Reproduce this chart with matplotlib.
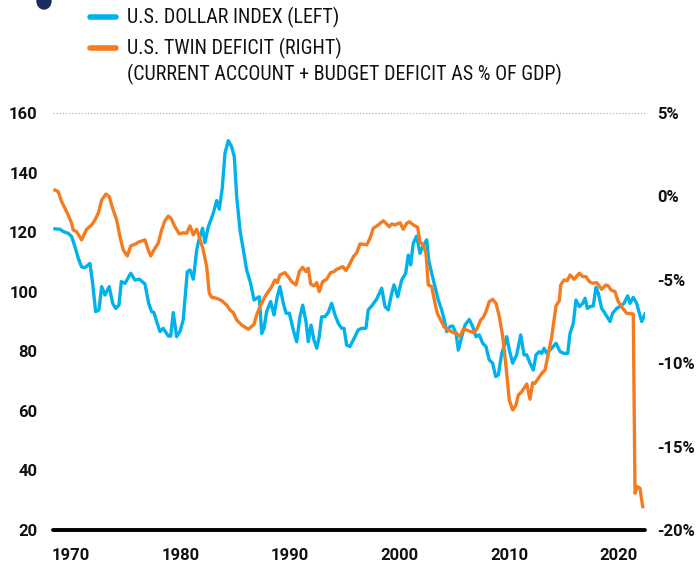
import matplotlib
matplotlib.use("Agg")
import matplotlib.pyplot as plt
from matplotlib.lines import Line2D
from matplotlib.patches import Ellipse

# U.S. dollar index (left axis)
usd_years = [1968.56, 1969.01, 1969.32, 1969.77, 1970.08, 1970.38, 1970.68, 1970.99, 1971.30, 1971.75,
             1972.00, 1972.27, 1972.57, 1972.82, 1973.12, 1973.51, 1973.82, 1974.10, 1974.40, 1974.61,
             1974.95, 1975.47, 1975.86, 1976.25, 1976.77, 1977.11, 1977.38, 1977.59, 1977.84, 1978.14,
             1978.44, 1978.90, 1979.12, 1979.35, 1979.66, 1979.96, 1980.26, 1980.63, 1980.88, 1981.18,
             1981.49, 1981.72, 1982.03, 1982.24, 1982.55, 1983.00, 1983.31, 1983.55, 1983.82, 1984.07,
             1984.37, 1984.68, 1984.92, 1985.14, 1985.44, 1985.74, 1986.05, 1986.41, 1986.72, 1986.96,
             1987.20, 1987.42, 1987.63, 1987.87, 1988.24, 1988.54, 1988.84, 1989.09, 1989.39, 1989.64,
             1989.94, 1990.30, 1990.61, 1990.91, 1991.16, 1991.46, 1991.67, 1991.92, 1992.19, 1992.44,
             1992.67, 1992.89, 1993.19, 1993.49, 1993.80, 1994.11, 1994.41, 1994.72, 1994.93, 1995.17,
             1995.47, 1995.78, 1996.23, 1996.54, 1996.93, 1997.14, 1997.45, 1997.91, 1998.37, 1998.67,
             1998.97, 1999.28, 1999.49, 1999.83, 2000.19, 2000.56, 2000.79, 2001.01, 2001.25, 2001.56,
             2001.86, 2002.11, 2002.47, 2002.68, 2002.93, 2003.23, 2003.53, 2003.84, 2004.08, 2004.30,
             2004.60, 2004.85, 2005.15, 2005.36, 2005.67, 2005.97, 2006.36, 2006.67, 2006.97, 2007.27,
             2007.58, 2007.88, 2008.18, 2008.49, 2008.77, 2009.01, 2009.32, 2009.62, 2009.77, 2010.01,
             2010.32, 2010.68, 2011.05, 2011.35, 2011.60, 2011.90, 2012.20, 2012.45, 2012.75, 2012.97,
             2013.18, 2013.42, 2013.72, 2014.02, 2014.27, 2014.64, 2015.00, 2015.34, 2015.55, 2015.85,
             2016.09, 2016.40, 2016.71, 2016.92, 2017.13, 2017.37, 2017.67, 2017.92, 2018.13, 2018.44,
             2018.83, 2019.20, 2019.44, 2019.81, 2020.17, 2020.47, 2020.81, 2021.02, 2021.32, 2021.63,
             2021.87, 2022.09, 2022.39]
usd_index = [121.1, 121.0, 120.2, 119.6, 118.5, 115.1, 111.3, 108.3, 108.1, 109.5,
             102.8, 93.3, 93.9, 101.7, 98.9, 101.7, 96.1, 94.4, 95.5, 103.4,
             102.8, 106.2, 103.9, 104.2, 102.6, 96.1, 93.3, 93.0, 90.0, 86.6,
             87.7, 85.1, 85.1, 93.0, 84.9, 86.6, 90.5, 106.7, 107.3, 104.2,
             114.0, 117.9, 121.3, 116.5, 121.8, 126.3, 130.6, 127.7, 134.7, 146.5,
             150.7, 148.7, 145.3, 131.9, 120.7, 114.0, 107.3, 102.8, 97.2, 97.8,
             98.3, 86.0, 87.7, 93.3, 96.7, 92.2, 98.3, 101.7, 96.1, 92.8,
             92.8, 87.2, 83.2, 91.6, 95.5, 90.0, 83.2, 88.8, 83.8, 81.0,
             84.9, 91.6, 91.6, 93.0, 96.1, 92.2, 89.4, 87.7, 87.7, 82.1,
             81.6, 83.8, 87.2, 87.7, 87.7, 93.9, 95.2, 97.5, 101.2, 95.0,
             93.9, 99.5, 102.3, 98.3, 103.9, 106.2, 112.3, 109.0, 116.3, 118.7,
             112.9, 115.1, 117.4, 110.1, 106.2, 101.7, 97.2, 93.9, 90.5, 86.6,
             88.3, 88.5, 86.0, 80.4, 84.9, 88.8, 90.7, 88.3, 84.9, 85.5,
             82.7, 81.6, 77.1, 76.0, 71.5, 72.1, 79.3, 82.7, 84.9, 80.5,
             76.0, 78.8, 85.5, 78.8, 78.8, 76.0, 73.7, 78.8, 79.9, 79.3,
             81.0, 79.3, 80.4, 81.6, 82.7, 79.9, 79.3, 79.3, 86.0, 89.4,
             97.2, 95.0, 96.1, 97.8, 94.4, 95.0, 95.2, 101.5, 99.5, 94.4,
             92.2, 90.0, 92.8, 94.4, 95.2, 96.1, 98.6, 96.1, 98.1, 96.1,
             92.8, 90.0, 92.5]

# U.S. twin deficit, % of GDP (right axis)
deficit_years = [1968.56, 1968.86, 1969.17, 1969.47, 1969.77, 1970.08, 1970.23, 1970.54, 1970.99, 1971.45,
                 1971.91, 1972.21, 1972.51, 1972.82, 1973.21, 1973.51, 1973.82, 1974.19, 1974.49, 1974.79,
                 1975.16, 1975.47, 1975.86, 1976.25, 1976.77, 1977.07, 1977.29, 1977.68, 1977.98, 1978.29,
                 1978.59, 1978.90, 1979.14, 1979.51, 1979.90, 1980.26, 1980.57, 1980.88, 1981.18, 1981.49,
                 1981.72, 1982.09, 1982.40, 1982.64, 1982.86, 1983.31, 1983.77, 1984.22, 1984.53, 1984.83,
                 1985.14, 1985.59, 1986.20, 1986.72, 1986.96, 1987.26, 1987.72, 1988.02, 1988.33, 1988.63,
                 1988.84, 1989.09, 1989.54, 1989.84, 1990.16, 1990.55, 1990.85, 1991.16, 1991.46, 1991.67,
                 1991.89, 1992.19, 1992.44, 1992.67, 1992.98, 1993.35, 1993.71, 1994.01, 1994.26, 1994.50,
                 1994.81, 1995.11, 1995.41, 1995.78, 1996.09, 1996.39, 1996.69, 1997.00, 1997.30, 1997.60,
                 1998.06, 1998.51, 1998.82, 1999.06, 1999.28, 1999.58, 2000.04, 2000.34, 2000.65, 2000.89,
                 2001.25, 2001.65, 2001.86, 2002.16, 2002.41, 2002.62, 2002.93, 2003.23, 2003.44, 2003.75,
                 2004.05, 2004.44, 2004.90, 2005.21, 2005.51, 2005.81, 2006.12, 2006.49, 2006.79, 2007.09,
                 2007.40, 2007.64, 2007.88, 2008.18, 2008.49, 2008.80, 2009.10, 2009.41, 2009.71, 2010.01,
                 2010.32, 2010.62, 2010.83, 2011.14, 2011.60, 2011.90, 2012.14, 2012.35, 2012.66, 2012.97,
                 2013.27, 2013.57, 2013.88, 2014.09, 2014.27, 2014.57, 2014.70, 2015.00, 2015.30, 2015.55,
                 2015.91, 2016.40, 2016.71, 2017.01, 2017.31, 2017.62, 2017.98, 2018.44, 2018.83, 2019.04,
                 2019.29, 2019.65, 2019.95, 2020.36, 2020.72, 2021.32, 2021.48, 2021.69, 2021.93, 2022.18]
twin_deficit = [0.38, 0.28, -0.32, -0.71, -1.12, -1.61, -2.01, -2.12, -2.61, -1.97,
                -1.71, -1.41, -1.01, -0.22, 0.14, -0.02, -0.71, -1.41, -2.42, -3.21,
                -3.57, -2.97, -2.87, -2.72, -2.61, -3.21, -3.57, -3.11, -2.81, -2.01,
                -1.46, -1.18, -1.31, -1.82, -2.25, -2.18, -2.21, -1.77, -2.31, -1.97,
                -2.42, -3.21, -4.21, -5.81, -6.05, -6.11, -6.25, -6.51, -6.81, -6.97,
                -7.41, -7.71, -7.97, -7.67, -7.11, -6.61, -6.01, -5.71, -5.41, -5.01,
                -5.17, -4.71, -4.57, -4.81, -5.11, -5.31, -4.51, -4.25, -4.51, -4.31,
                -5.25, -5.37, -5.17, -5.71, -5.11, -4.97, -4.57, -4.51, -4.37, -4.31,
                -4.21, -4.45, -4.11, -3.62, -3.38, -2.85, -2.87, -2.91, -2.51, -1.91,
                -1.71, -1.46, -1.65, -1.82, -1.65, -1.71, -1.58, -1.97, -1.61, -1.52,
                -1.71, -1.85, -2.72, -2.91, -3.41, -5.31, -5.41, -6.41, -7.01, -7.41,
                -7.81, -8.01, -8.17, -8.21, -8.41, -7.97, -8.01, -8.11, -8.17, -7.91,
                -7.41, -7.25, -6.91, -6.31, -6.17, -6.41, -7.21, -8.41, -10.21, -12.21,
                -12.81, -12.51, -11.91, -11.71, -11.25, -12.16, -11.17, -11.21, -10.91, -10.61,
                -10.41, -9.41, -8.41, -7.41, -6.57, -6.25, -5.31, -5.01, -5.05, -4.71,
                -4.97, -4.61, -4.81, -4.81, -5.11, -5.21, -5.17, -5.57, -5.31, -5.37,
                -5.61, -5.71, -6.31, -6.71, -7.01, -7.05, -17.80, -17.40, -17.50, -18.60]

decade_ticks = [1970, 1980, 1990, 2000, 2010, 2020]
left_ticks = [20, 40, 60, 80, 100, 120, 140, 160]
right_ticks = [-20, -15, -10, -5, 0, 5]

blue = "#00b2ec"
orange = "#f47b20"
tick_font = dict(family=["Roboto", "DejaVu Sans"], size=12, weight="semibold", color="#111111")
legend_font = dict(family=["Roboto Condensed", "Roboto", "DejaVu Sans"], size=14.4,
                   color="#111111")

fig = plt.figure(figsize=(7, 5.61), dpi=100)
ax = fig.add_axes([53 / 700, 31 / 561, 592 / 700, 417 / 561])
ax2 = ax.twinx()

ax.plot(usd_years, usd_index, color=blue, lw=2.4, solid_joinstyle="round", zorder=3)
ax2.plot(deficit_years, twin_deficit, color=orange, lw=2.4, solid_joinstyle="round", zorder=3)

ax.set_xlim(1968.38, 2022.39)
ax.set_ylim(20, 160)
ax2.set_ylim(-20, 5)

ax.set_xticks(decade_ticks)
ax.set_xticklabels([str(t) for t in decade_ticks], **tick_font)
ax.set_yticks(left_ticks)
ax.set_yticklabels([str(t) for t in left_ticks], **tick_font)
ax2.set_yticks(right_ticks)
ax2.set_yticklabels([f"{t}%" for t in right_ticks], **tick_font)
ax.tick_params(axis="x", length=0, pad=13)
ax.tick_params(axis="y", length=0, pad=11)
ax2.tick_params(axis="y", length=0, pad=9)

for a in (ax, ax2):
    for s in a.spines.values():
        s.set_visible(False)

# dotted top gridline and heavy baseline
ax.axhline(160, color="#b5b5b5", lw=0.9, ls=(0, (1, 1.5)), zorder=1, clip_on=False)
ax.axhline(20, color="black", lw=2.8, solid_capstyle="round", zorder=4, clip_on=False)

# legend drawn by hand so the orange key sits on the first text line
W, H = 700, 561
fig.add_artist(Line2D([90 / W, 116 / W], [1 - 17 / H, 1 - 17 / H], color=blue, lw=4,
                      solid_capstyle="round"))
fig.add_artist(Line2D([90 / W, 116 / W], [1 - 48 / H, 1 - 48 / H], color=orange, lw=4,
                      solid_capstyle="round"))
fig.text(127 / W, 1 - 17 / H, "U.S. DOLLAR INDEX (LEFT)", va="center", ha="left", **legend_font)
fig.text(127 / W, 1 - 48 / H, "U.S. TWIN DEFICIT (RIGHT)", va="center", ha="left", **legend_font)
fig.text(127 / W, 1 - 74 / H, "(CURRENT ACCOUNT + BUDGET DEFICIT AS % OF GDP)", va="center",
         ha="left", **legend_font)

# cut-off logo mark in the top-left corner
fig.add_artist(Ellipse((44 / W, 1 - 1 / H), 14 / W, 16 / H, color="#1b2b5b"))

fig.savefig("out.png", dpi=100)
